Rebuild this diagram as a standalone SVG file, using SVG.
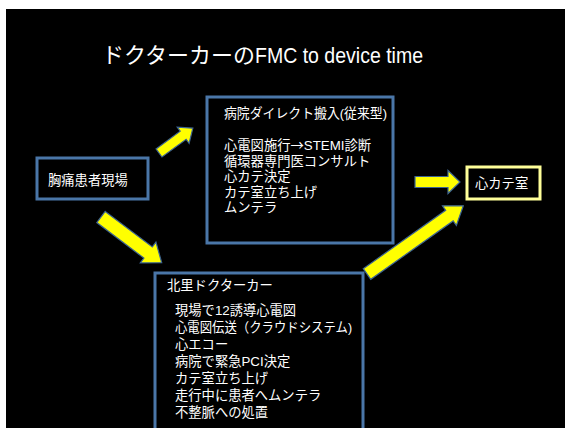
<svg xmlns="http://www.w3.org/2000/svg" width="565" height="428" viewBox="0 0 565 428">
<style>
.box{fill:#000;stroke:#4a76a8;stroke-width:3}
.t{fill:#fff;font-family:"Liberation Sans","Noto Sans CJK JP",sans-serif;font-size:13.3px}
.title{fill:#fff;font-family:"Liberation Sans","Noto Sans CJK JP",sans-serif;font-size:22px}
.arr{fill:#ffff00;stroke:#3d6591;stroke-width:1.2;stroke-linejoin:miter}
</style>
<rect x="0" y="0" width="565" height="428" fill="#fff"/>
<rect x="6" y="9" width="559" height="419" fill="#000"/>
<text class="title" x="102" y="63" textLength="153" lengthAdjust="spacingAndGlyphs">ドクターカーの</text>
<text class="title" x="255" y="63" textLength="168" lengthAdjust="spacingAndGlyphs">FMC to device time</text>
<g id="connectors">
<polygon class="arr" transform="translate(159,153) rotate(-36.3)" points="0,-5 30,-5 30,-10 42,0 30,10 30,5 0,5"/>
<polygon class="arr" transform="translate(101,217) rotate(37)" points="0,-7 59,-7 59,-13 76,0 59,13 59,7 0,7"/>
<polygon class="arr" transform="translate(415,182)" points="0,-5.5 33,-5.5 33,-11.5 45,0 33,11.5 33,5.5 0,5.5"/>
<polygon class="arr" transform="translate(367,274) rotate(-35.3)" points="0,-6.5 101,-6.5 101,-12 118,0 101,12 101,6.5 0,6.5"/>
</g>
<g id="scene">
<rect class="box" x="37" y="158" width="111" height="41"/>
<text class="t" x="48" y="185">胸痛患者現場</text>
</g>
<g id="hospital">
<rect class="box" x="207" y="97" width="186" height="146"/>
<text class="t" x="224" y="118" textLength="163" lengthAdjust="spacingAndGlyphs">病院ダイレクト搬入(従来型)</text>
<text class="t" x="224" y="150">心電図施行<tspan font-family="Noto Sans CJK JP,sans-serif">→</tspan>STEMI診断</text>
<text class="t" x="224" y="165.5">循環器専門医コンサルト</text>
<text class="t" x="224" y="181">心カテ決定</text>
<text class="t" x="224" y="196.5">カテ室立ち上げ</text>
<text class="t" x="224" y="212">ムンテラ</text>
</g>
<g id="doctorcar">
<rect class="box" x="155" y="273" width="208" height="160"/>
<text class="t" x="167" y="290">北里ドクターカー</text>
<text class="t" x="175" y="315">現場で12誘導心電図</text>
<text class="t" x="175" y="332" textLength="177" lengthAdjust="spacingAndGlyphs">心電図伝送（クラウドシステム)</text>
<text class="t" x="175" y="349">心エコー</text>
<text class="t" x="175" y="366">病院で緊急PCI決定</text>
<text class="t" x="175" y="383">カテ室立ち上げ</text>
<text class="t" x="175" y="400">走行中に患者へムンテラ</text>
<text class="t" x="175" y="417">不整脈への処置</text>
</g>
<g id="cathlab">
<rect x="467" y="167" width="73" height="32" fill="#000" stroke="#ffff99" stroke-width="3"/>
<text class="t" x="475" y="188">心カテ室</text>
</g>
</svg>
